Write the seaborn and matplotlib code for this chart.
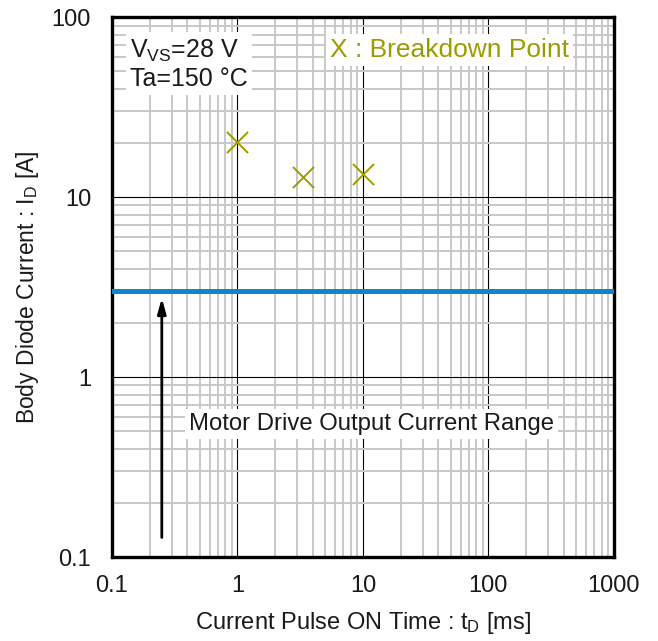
import numpy as np
import pandas as pd
import matplotlib
matplotlib.use('Agg')
import matplotlib.pyplot as plt
import seaborn as sns
from matplotlib.ticker import LogLocator, FixedLocator, FixedFormatter, NullFormatter

# Данные
pulse_time_ms = [1.0, 3.35, 10.0]
breakdown_current_a = [20.2, 12.9, 13.4]
output_current_max = 3.0
arrow_x = 0.25
arrow_y = [0.124, 2.85]
range_label_pos = (0.415, 0.55)

x_ticks = [0.1, 1, 10, 100, 1000]
x_tick_labels = ['0.1', '1', '10', '100', '1000']
y_ticks = [0.1, 1, 10, 100]
y_tick_labels = ['0.1', '1', '10', '100']

sns.set_style('white')
plt.rcParams['font.family'] = ['Liberation Sans', 'DejaVu Sans']
plt.rcParams['mathtext.fontset'] = 'custom'
plt.rcParams['mathtext.rm'] = 'Liberation Sans'
plt.rcParams['mathtext.it'] = 'Liberation Sans'

fig = plt.figure(figsize=(6.58, 6.41), dpi=100)
ax = fig.add_axes([0.170, 0.131, 0.763, 0.842])

df = pd.DataFrame({'t': pulse_time_ms, 'i': breakdown_current_a})
sns.scatterplot(data=df, x='t', y='i', ax=ax, marker='x', s=230,
                color='#9c9c00', linewidth=1.4, zorder=5)

ax.axhline(output_current_max, color='#0a88cc', lw=3.6, zorder=4)
ax.annotate('', xy=(arrow_x, arrow_y[1]), xytext=(arrow_x, arrow_y[0]),
            arrowprops=dict(arrowstyle='-|>,head_length=0.9,head_width=0.25',
                            color='black', lw=2), zorder=4)

ax.set_xscale('log')
ax.set_yscale('log')
ax.set_xlim(0.1, 1000)
ax.set_ylim(0.1, 100)

ax.xaxis.set_major_locator(FixedLocator(x_ticks))
ax.xaxis.set_major_formatter(FixedFormatter(x_tick_labels))
ax.yaxis.set_major_locator(FixedLocator(y_ticks))
ax.yaxis.set_major_formatter(FixedFormatter(y_tick_labels))
for axis in (ax.xaxis, ax.yaxis):
    axis.set_minor_locator(LogLocator(base=10, subs=np.arange(2, 10), numticks=20))
    axis.set_minor_formatter(NullFormatter())

ax.grid(True, which='minor', color='#c8c8c8', lw=1.4, zorder=0)
ax.grid(True, which='major', color='black', lw=0.8, zorder=1)
ax.set_axisbelow(True)
ax.tick_params(which='both', length=0, labelsize=17, colors='#1a1a1a')
ax.tick_params(axis='x', pad=13)
ax.tick_params(axis='y', pad=15)

for sp in ax.spines.values():
    sp.set_linewidth(2.4)
    sp.set_color('black')

ax.set_xlabel('Current Pulse ON Time : t$_\\mathrm{D}$ [ms]', fontsize=17, labelpad=9,
              color='#1a1a1a')
ax.set_ylabel('Body Diode Current : I$_\\mathrm{D}$ [A]', fontsize=16.5, labelpad=8,
              color='#1a1a1a')

box = dict(facecolor='white', edgecolor='none', pad=3)
ax.text(0.036, 0.962, 'V$_\\mathrm{VS}$=28 V\nTa=150 °C', transform=ax.transAxes,
        ha='left', va='top', fontsize=18, linespacing=1.15, bbox=box, zorder=6,
        color='#1a1a1a')
ax.text(0.434, 0.962, 'X : Breakdown Point', transform=ax.transAxes,
        ha='left', va='top', fontsize=19, color='#9c9c00', bbox=box, zorder=6)
ax.text(range_label_pos[0], range_label_pos[1], 'Motor Drive Output Current Range',
        ha='left', va='center', fontsize=17.2, bbox=box, zorder=6, color='#1a1a1a')

fig.savefig('out.png', dpi=100)
